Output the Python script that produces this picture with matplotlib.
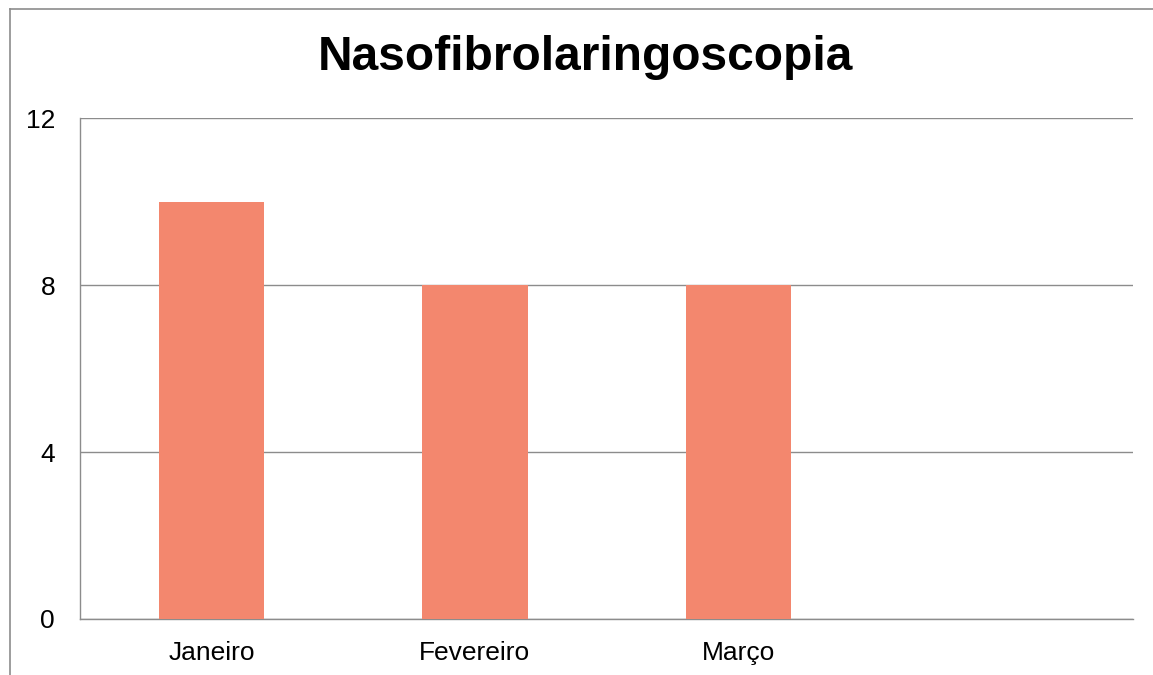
import matplotlib.pyplot as plt
from matplotlib.lines import Line2D

# dados do grafico
meses = ["Janeiro", "Fevereiro", "Março", ""]
valores = [10, 8, 8]
yticks = [0, 4, 8, 12]

plt.rcParams['font.family'] = ['Liberation Sans', 'DejaVu Sans']

fig = plt.figure(figsize=(11.53, 6.75), dpi=100)
ax = fig.add_axes([0.0694, 0.083, 0.9133, 0.742])

ax.bar(range(len(valores)), valores, width=0.4, color="#F3876E", zorder=3)

ax.set_xlim(-0.5, len(meses) - 0.5)
ax.set_ylim(0, 12)
ax.set_yticks(yticks)
ax.set_xticks(range(len(meses)))
ax.set_xticklabels(meses)
ax.tick_params(axis='both', length=0, labelsize=19)
ax.tick_params(axis='y', pad=18)
ax.tick_params(axis='x', pad=16)

ax.grid(axis='y', color="#8C8C8C", linewidth=1, zorder=0)
for s in ['top', 'right']:
    ax.spines[s].set_visible(False)
for s in ['left', 'bottom']:
    ax.spines[s].set_color("#8C8C8C")
    ax.spines[s].set_linewidth(1)

fig.text(0.508, 0.915, "Nasofibrolaringoscopia", fontsize=34.5, fontweight='bold',
         ha='center', va='center')

# moldura do grafico
fig.add_artist(Line2D([10 / 1153, 1.0], [1 - 9 / 675, 1 - 9 / 675], color="#8C8C8C", linewidth=1.2))
fig.add_artist(Line2D([10 / 1153, 10 / 1153], [0, 1 - 9 / 675], color="#8C8C8C", linewidth=1.2))

fig.savefig("out.png", dpi=100)
